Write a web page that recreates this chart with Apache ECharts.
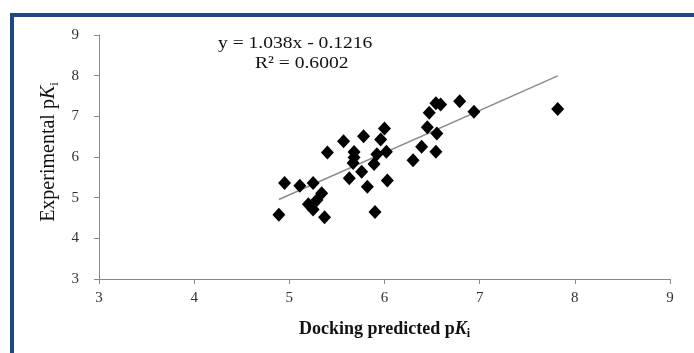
<!DOCTYPE html>
<html>
<head>
<meta charset="utf-8">
<script src="https://cdn.jsdelivr.net/npm/echarts@6/dist/echarts.min.js"></script>
<style>
html,body{margin:0;padding:0;background:#fff;}
#c{width:694px;height:353px;}
</style>
</head>
<body>
<div id="c"></div>
<script>
// Docking predicted pKi
const predicted = [4.89, 4.95, 5.11, 5.25, 5.34, 5.29, 5.20, 5.25, 5.37, 5.40,
  5.57, 5.63, 5.68, 5.68, 5.67, 5.76, 5.78, 5.82, 5.89, 5.90,
  5.92, 5.96, 6.00, 6.02, 6.03, 6.30, 6.39, 6.45, 6.47, 6.54,
  6.55, 6.54, 6.59, 6.79, 6.94, 7.82];
// Experimental pKi
const experimental = [4.58, 5.36, 5.29, 5.36, 5.11, 4.94, 4.84, 4.71, 4.52, 6.11,
  6.39, 5.48, 6.12, 5.99, 5.85, 5.64, 6.51, 5.27, 5.83, 4.65,
  6.07, 6.43, 6.70, 6.13, 5.42, 5.92, 6.25, 6.73, 7.09, 6.13,
  6.58, 7.32, 7.29, 7.37, 7.11, 7.18];
const xTicks = [3, 4, 5, 6, 7, 8, 9];
const yTicks = [3, 4, 5, 6, 7, 8, 9];
const slope = 1.038;
const intercept = -0.1216;
const equationText = 'y = 1.038x - 0.1216';
const r2Text = 'R\u00b2 = 0.6002';

const points = predicted.map((x, i) => [x, experimental[i]]);
const xMin = Math.min(...predicted), xMax = Math.max(...predicted);
const trend = [[xMin, slope * xMin + intercept], [xMax, slope * xMax + intercept]];

const chart = echarts.init(document.getElementById('c'));
const serif = 'Liberation Serif';
const axisCol = '#888888';
chart.setOption({
  animation: false,
  backgroundColor: '#ffffff',
  grid: {left: 99, right: 24, top: 35, bottom: 74, containLabel: false},
  xAxis: {
    type: 'value', min: xTicks[0], max: xTicks[xTicks.length - 1], interval: 1,
    axisLine: {show: true, lineStyle: {color: axisCol, width: 1}},
    axisTick: {show: true, inside: false, length: 5, lineStyle: {color: axisCol}},
    splitLine: {show: false},
    axisLabel: {fontFamily: serif, fontSize: 15, color: '#333', margin: 12},
    name: '{b|Docking predicted p}{bi|K}{sub|i}',
    nameLocation: 'middle', nameGap: 40,
    nameTextStyle: {
      rich: {
        b: {fontFamily: serif, fontSize: 18, fontWeight: 'bold', color: '#111'},
        bi: {fontFamily: serif, fontSize: 18, fontWeight: 'bold', fontStyle: 'italic', color: '#111'},
        sub: {fontFamily: serif, fontSize: 12, fontWeight: 'bold', color: '#111', padding: [9, 0, 0, 0]}
      }
    }
  },
  yAxis: {
    type: 'value', min: yTicks[0], max: yTicks[yTicks.length - 1], interval: 1,
    axisLine: {show: true, lineStyle: {color: axisCol, width: 1}},
    axisTick: {show: true, inside: false, length: 5, lineStyle: {color: axisCol}},
    splitLine: {show: false},
    axisLabel: {fontFamily: serif, fontSize: 15, color: '#333', margin: 20},
    name: '{n|Experimental p}{it|K}{sub|i}',
    nameLocation: 'middle', nameGap: 36, nameRotate: 90,
    nameTextStyle: {
      padding: [0, 0, 0, 10],
      rich: {
        n: {fontFamily: serif, fontSize: 20, color: '#111'},
        it: {fontFamily: serif, fontSize: 20, fontStyle: 'italic', color: '#111'},
        sub: {fontFamily: serif, fontSize: 13, color: '#111', padding: [10, 0, 0, 0]}
      }
    }
  },
  series: [
    {
      type: 'scatter', data: points, symbol: 'diamond', symbolSize: [13, 14],
      itemStyle: {color: '#000000', opacity: 1}, z: 3
    },
    {
      type: 'line', data: trend, symbol: 'none',
      lineStyle: {color: '#8c8c8c', width: 1.5}, z: 2
    }
  ],
  graphic: [
    {type: 'rect', shape: {x: 10, y: 13, width: 684, height: 4}, style: {fill: '#1f497d'}, silent: true},
    {type: 'rect', shape: {x: 10, y: 13, width: 4, height: 340}, style: {fill: '#1f497d'}, silent: true},
    {type: 'text', x: 218, y: 35, scaleX: 1.15, style: {text: equationText, font: '17px "Liberation Serif"', fill: '#111'}},
    {type: 'text', x: 255, y: 55, scaleX: 1.15, style: {text: r2Text, font: '17px "Liberation Serif"', fill: '#111'}}
  ]
});
</script>
</body>
</html>
